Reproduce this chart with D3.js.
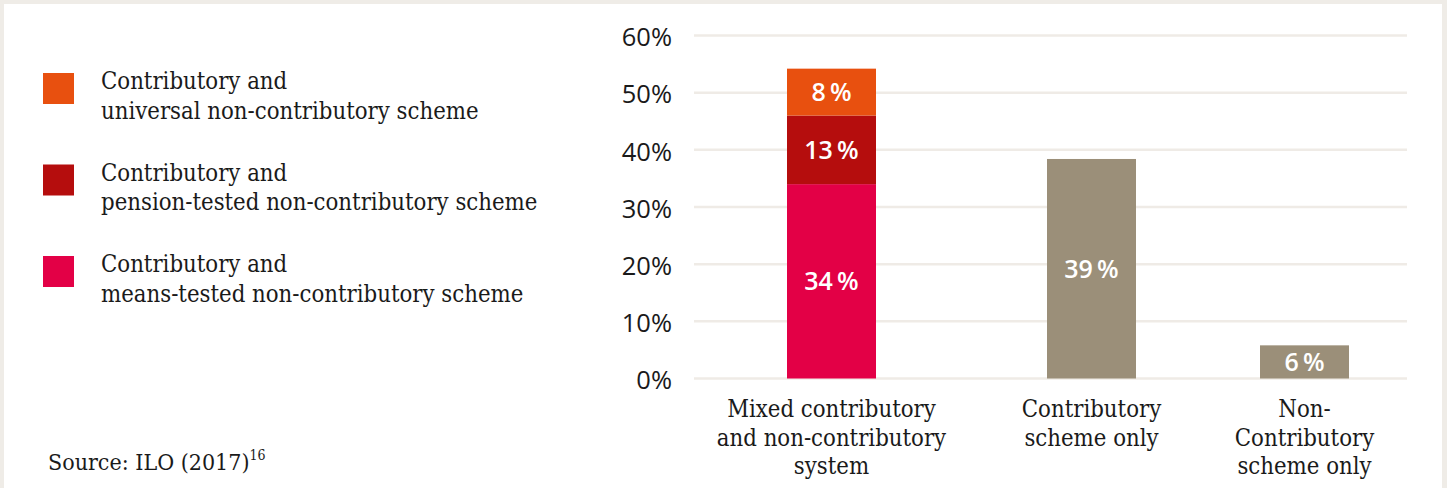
<!DOCTYPE html>
<html>
<head>
<meta charset="utf-8">
<script src="https://cdn.jsdelivr.net/npm/d3@7"></script>
<style>
  html, body { margin: 0; padding: 0; background: #efece7; }
  svg { display: block; }
</style>
</head>
<body>
<svg id="chart" width="1447" height="488"></svg>
<script>
// ---- data ----
const categories = [
  ["Mixed contributory", "and non-contributory", "system"],
  ["Contributory", "scheme only"],
  ["Non-", "Contributory", "scheme only"]
];
const categoryKeys = ["mixed", "contrib", "noncontrib"];
const mixedSeries = ["means", "pension", "universal"];
const mixedValues = [34.0, 12.0, 8.2];
const mixedLabels = ["34", "13", "8"];
const singleValues = [38.4, 5.8];
const singleLabels = ["39", "6"];
const yTicks = [0, 10, 20, 30, 40, 50, 60];
const legendLabels = [
  ["Contributory and", "universal non-contributory scheme"],
  ["Contributory and", "pension-tested non-contributory scheme"],
  ["Contributory and", "means-tested non-contributory scheme"]
];
const legendKeys = ["universal", "pension", "means"];
const sourceText = "Source: ILO (2017)";
const sourceNote = "16";

// ---- styles ----
const colors = { universal: "#e8500f", pension: "#b50d0d", means: "#e30046", single: "#9b8f79" };
const serif = "'DejaVu Serif Condensed', 'DejaVu Serif', serif";
const sans = "'Open Sans', sans-serif";

const svg = d3.select("#chart");
svg.append("rect").attr("x", 4).attr("y", 4).attr("width", 1438).attr("height", 484).attr("fill", "#ffffff");

const y = d3.scaleLinear().domain([0, 60]).range([378.5, 35.5]);
const x = d3.scaleOrdinal().domain(categoryKeys).range([831.5, 1091.5, 1304.5]);
const barW = 89;

// gridlines
svg.append("g").selectAll("line").data(yTicks).join("line")
  .attr("x1", 694).attr("x2", 1407)
  .attr("y1", d => y(d)).attr("y2", d => y(d))
  .attr("stroke", "#efebe6").attr("stroke-width", 2.5);

// y axis labels
const yAxis = d3.axisLeft(y).tickValues(yTicks).tickFormat(d => d + "%").tickSize(0).tickPadding(0);
const yg = svg.append("g").attr("transform", "translate(672,0)").call(yAxis);
yg.select(".domain").remove();
yg.selectAll("text").attr("font-family", sans).attr("font-size", 25.5).attr("fill", "#1a1a1a")
  .attr("dy", "0.4em");

// stacked bar
const stackData = [];
let acc = 0;
mixedValues.forEach((v, i) => { stackData.push({ key: mixedSeries[i], y0: acc, y1: acc + v, label: mixedLabels[i] }); acc += v; });

const bars = svg.append("g");
bars.selectAll("rect.stack").data(stackData).join("rect")
  .attr("x", x("mixed") - barW / 2).attr("width", barW)
  .attr("y", d => y(d.y1)).attr("height", d => y(d.y0) - y(d.y1))
  .attr("fill", d => colors[d.key]);

const singles = singleValues.map((v, i) => ({ key: categoryKeys[i + 1], v, label: singleLabels[i] }));
bars.selectAll("rect.single").data(singles).join("rect")
  .attr("x", d => x(d.key) - barW / 2).attr("width", barW)
  .attr("y", d => y(d.v)).attr("height", d => y(0) - y(d.v))
  .attr("fill", colors.single);

// bar labels
const lblStyle = s => s.attr("font-family", sans).attr("font-size", 25).attr("font-weight", 600)
  .attr("fill", "#ffffff").attr("text-anchor", "middle").attr("dy", "0.36em");
bars.selectAll("text.s").data(stackData).join("text")
  .attr("x", x("mixed")).attr("y", d => (y(d.y0) + y(d.y1)) / 2)
  .text(d => d.label + "\u2009%").call(lblStyle);
bars.selectAll("text.o").data(singles).join("text")
  .attr("x", d => x(d.key)).attr("y", d => (y(0) + y(d.v)) / 2)
  .text(d => d.label + "\u2009%").call(lblStyle);

// category labels
const cat = svg.append("g");
categories.forEach((lines, i) => {
  const t = cat.append("text").attr("text-anchor", "middle").attr("font-family", serif)
    .attr("font-stretch", "condensed").attr("font-size", 23.7).attr("fill", "#1a1a1a");
  lines.forEach((ln, j) => {
    t.append("tspan").attr("x", x(categoryKeys[i])).attr("y", 417 + j * 28.5).text(ln);
  });
});

// legend
const lg = svg.append("g");
legendKeys.forEach((k, i) => {
  const top = 73 + i * 91.5;
  lg.append("rect").attr("x", 43).attr("y", top).attr("width", 31).attr("height", 31).attr("fill", colors[k]);
  const t = lg.append("text").attr("font-family", serif).attr("font-stretch", "condensed")
    .attr("font-size", 23.7).attr("fill", "#1a1a1a");
  legendLabels[i].forEach((ln, j) => {
    t.append("tspan").attr("x", 101).attr("y", top + 16 + j * 29.5).text(ln);
  });
});

// source
const src = svg.append("text").attr("x", 48).attr("y", 470).attr("font-family", serif)
  .attr("font-stretch", "condensed").attr("font-size", 23).attr("fill", "#1a1a1a");
src.append("tspan").text(sourceText);
src.append("tspan").attr("font-size", 14).attr("dy", -10).text(sourceNote);
</script>
</body>
</html>
